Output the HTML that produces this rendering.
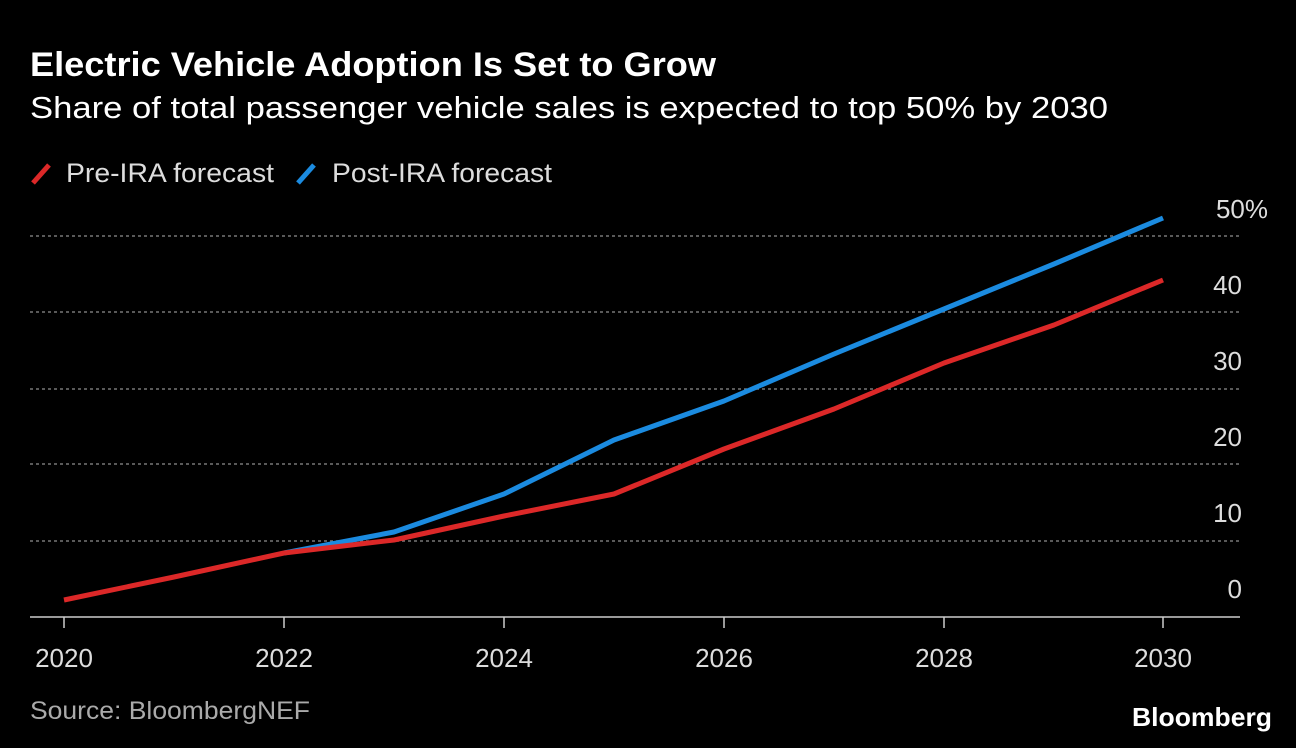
<!DOCTYPE html>
<html><head><meta charset="utf-8"><style>
body{margin:0;background:#000;width:1296px;height:748px;overflow:hidden;font-family:"Liberation Sans",sans-serif;color:#fff}
</style></head><body>
<svg width="1296" height="748" xmlns="http://www.w3.org/2000/svg" style="position:absolute;left:0;top:0">
<rect width="1296" height="748" fill="#000"/>
<text x="30" y="76" font-family="Liberation Sans" font-weight="bold" font-size="34" fill="#fff" textLength="686" lengthAdjust="spacingAndGlyphs">Electric Vehicle Adoption Is Set to Grow</text>
<text x="30" y="118" font-family="Liberation Sans" font-size="31" fill="#fff" textLength="1078" lengthAdjust="spacingAndGlyphs">Share of total passenger vehicle sales is expected to top 50% by 2030</text>
<line x1="33" y1="183" x2="49" y2="165" stroke="#dc2828" stroke-width="5"/>
<text x="66" y="182" font-size="27" fill="#ddd" textLength="208" lengthAdjust="spacingAndGlyphs">Pre-IRA forecast</text>
<line x1="298" y1="183" x2="314" y2="165" stroke="#1b8be0" stroke-width="5"/>
<text x="332" y="182" font-size="27" fill="#ddd" textLength="220" lengthAdjust="spacingAndGlyphs">Post-IRA forecast</text>
<g stroke="#777" stroke-width="1.5" stroke-dasharray="3,3">
<line x1="30" y1="236" x2="1240" y2="236"/><line x1="30" y1="312" x2="1240" y2="312"/>
<line x1="30" y1="389" x2="1240" y2="389"/><line x1="30" y1="464" x2="1240" y2="464"/>
<line x1="30" y1="541" x2="1240" y2="541"/></g>
<line x1="30" y1="617" x2="1240" y2="617" stroke="#ccc" stroke-width="1.5"/>
<g stroke="#ccc" stroke-width="1.5"><line x1="64" y1="617" x2="64" y2="628"/><line x1="284" y1="617" x2="284" y2="628"/><line x1="504" y1="617" x2="504" y2="628"/><line x1="724" y1="617" x2="724" y2="628"/><line x1="944" y1="617" x2="944" y2="628"/><line x1="1163" y1="617" x2="1163" y2="628"/></g>
<g font-size="26" fill="#ddd" text-anchor="end">
<text x="1268" y="218">50%</text><text x="1242" y="294">40</text><text x="1242" y="370">30</text><text x="1242" y="446">20</text><text x="1242" y="522">10</text><text x="1242" y="598">0</text></g>
<g font-size="26" fill="#ddd" text-anchor="middle">
<text x="64" y="667">2020</text><text x="284" y="667">2022</text><text x="504" y="667">2024</text><text x="724" y="667">2026</text><text x="944" y="667">2028</text><text x="1163" y="667">2030</text></g>
<polyline fill="none" stroke="#1b8be0" stroke-width="5" stroke-linejoin="round" points="284,553 394,532 504,494 614,440 724,401 834,354 944,309 1054,264 1163,218"/>
<polyline fill="none" stroke="#dc2828" stroke-width="5" stroke-linejoin="round" points="64,600 174,577 284,553 394,540 504,516 614,494 724,449 834,409 944,363 1054,325 1163,280"/>
<text x="30" y="719" font-size="25" fill="#aaa" textLength="280" lengthAdjust="spacingAndGlyphs">Source: BloombergNEF</text>
<text x="1272" y="726" font-size="26" font-weight="bold" fill="#fff" text-anchor="end" textLength="140" lengthAdjust="spacingAndGlyphs">Bloomberg</text>
</svg>
</body></html>
